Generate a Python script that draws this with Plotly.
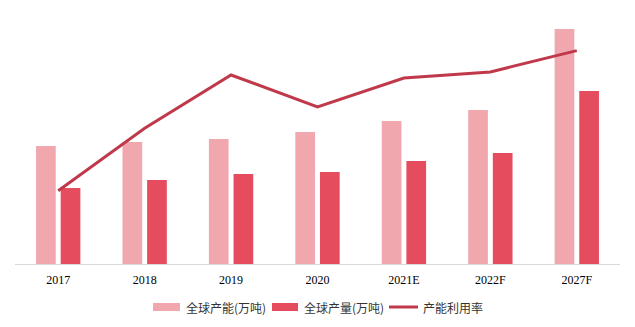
import plotly.graph_objects as go

categories = ["2017", "2018", "2019", "2020", "2021E", "2022F", "2027F"]
capacity = [59, 61, 62.5, 66, 71.5, 77, 117.5]       # 全球产能(万吨)
output = [38, 42, 45, 46, 51.5, 55.5, 86.5]          # 全球产量(万吨)
utilization = [64.4, 68.5, 72.0, 69.9, 71.8, 72.2, 73.6]  # 产能利用率 (%)

names = ["全球产能(万吨)", "全球产量(万吨)", "产能利用率"]
colors = ["#F0A8AE", "#E54C5E", "#C0394B"]

W, H = 635, 327
ML, MR, MT, MB = 15, 15, 14, 63
PW, PH = W - ML - MR, H - MT - MB


def px(x):
    return (x - ML) / PW


def py(y):
    return (H - MB - y) / PH


fig = go.Figure()
fig.add_trace(go.Bar(x=categories, y=capacity, name=names[0],
                     marker=dict(color=colors[0], line=dict(width=0))))
fig.add_trace(go.Bar(x=categories, y=output, name=names[1],
                     marker=dict(color=colors[1], line=dict(width=0))))
fig.add_trace(go.Scatter(x=categories, y=utilization, name=names[2], yaxis="y2",
                         mode="lines", line=dict(color=colors[2], width=3)))

# manual legend (swatches + labels)
legend_font = dict(family="Noto Sans CJK SC", size=12, color="#333333")
shapes = [
    dict(type="rect", xref="paper", yref="paper", x0=px(153), x1=px(180),
         y0=py(311), y1=py(303), fillcolor=colors[0], line=dict(width=0)),
    dict(type="rect", xref="paper", yref="paper", x0=px(272), x1=px(298),
         y0=py(311), y1=py(303), fillcolor=colors[1], line=dict(width=0)),
    dict(type="line", xref="paper", yref="paper", x0=px(389), x1=px(418),
         y0=py(307), y1=py(307), line=dict(color=colors[2], width=3)),
]
annotations = [
    dict(text=names[0], x=px(184), y=py(307), xref="paper", yref="paper",
         xanchor="left", yanchor="middle", showarrow=False, font=legend_font),
    dict(text=names[1], x=px(302), y=py(307), xref="paper", yref="paper",
         xanchor="left", yanchor="middle", showarrow=False, font=legend_font),
    dict(text=names[2], x=px(421), y=py(307), xref="paper", yref="paper",
         xanchor="left", yanchor="middle", showarrow=False, font=legend_font),
]

fig.update_layout(
    width=W, height=H,
    margin=dict(l=ML, r=MR, t=MT, b=MB, autoexpand=False),
    plot_bgcolor="white", paper_bgcolor="white",
    barmode="group", bargap=0.43, bargroupgap=0.2,
    xaxis=dict(showline=True, linecolor="#D9D9D9", linewidth=1,
               ticks="", showgrid=False, ticklabelstandoff=5,
               tickfont=dict(family="Liberation Serif, Times New Roman, serif",
                             size=12, color="#000000")),
    yaxis=dict(range=[0, 125], visible=False, showgrid=False),
    yaxis2=dict(range=[59.6, 76.0], overlaying="y", side="right",
                visible=False, showgrid=False),
    showlegend=False,
    shapes=shapes,
    annotations=annotations,
)

fig.write_html("out.html")
